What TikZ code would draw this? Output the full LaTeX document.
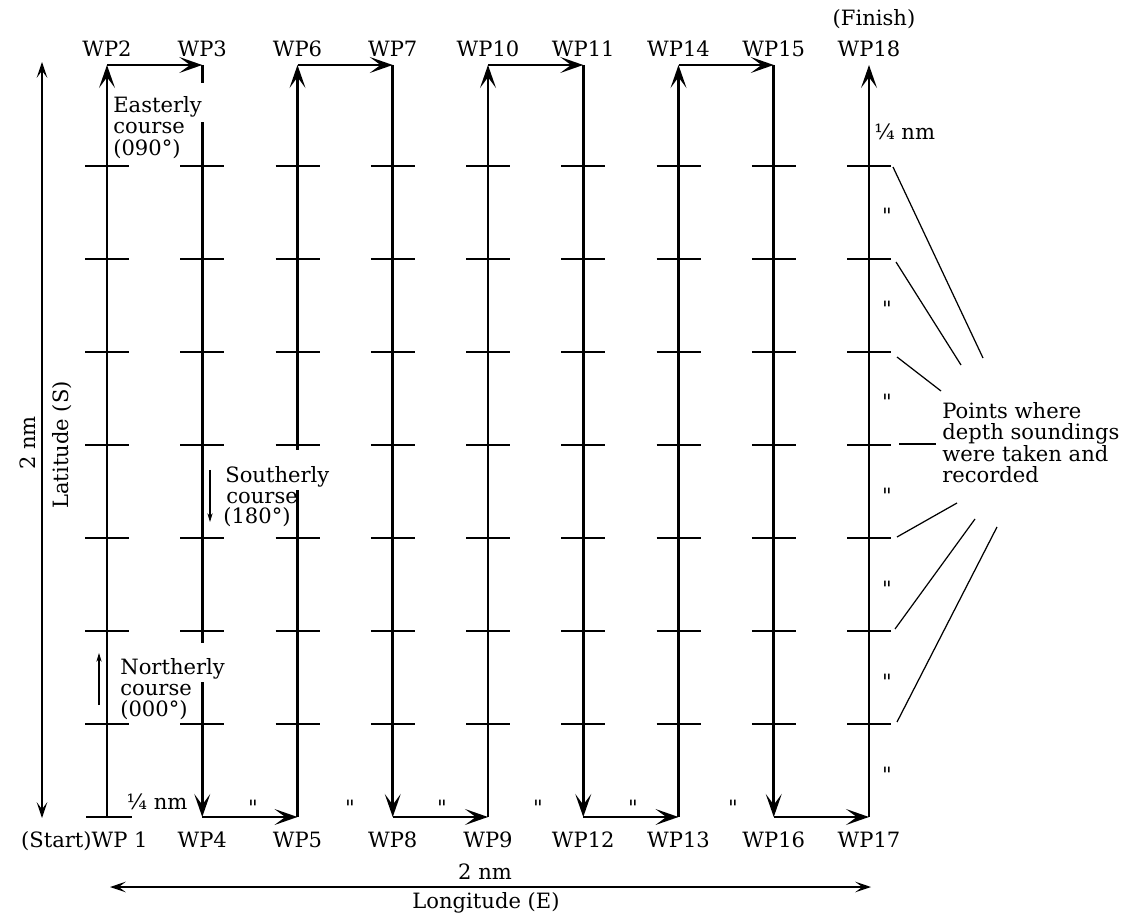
\documentclass[tikz,border=0pt]{standalone}
\usepackage{fontspec}
\setmainfont{DejaVu Serif}
\newfontfamily\dittofont[Ligatures=TeXOff]{DejaVu Serif}
\usetikzlibrary{arrows.meta}
\tikzset{SVrun/.style={line width=1.6pt,-{Stealth[length=13pt,width=9pt,inset=6pt]}},
         SVtick/.style={line width=1.5pt},
         SVlab/.style={font=\fontsize{12}{12}\selectfont,inner sep=0pt},
         SVditto/.style={font=\dittofont\fontsize{12}{12}\selectfont,inner sep=0pt},
         SVdim/.style={line width=0.8pt,{Stealth[length=9pt,width=6pt,inset=4pt]}-{Stealth[length=9pt,width=6pt,inset=4pt]}},
         SVsmall/.style={line width=0.6pt,-{Stealth[length=5pt,width=3pt]}},
         SVcall/.style={line width=0.7pt}}

\begin{document}
\begin{tikzpicture}[x=0.02cm,y=-0.02cm]
  \useasboundingbox (0,0) rectangle (1126,915);
  % waypoints: bottom row b0..b8, top row t0..t8
  \foreach \i in {0,...,8}
     {\coordinate (b\i) at (107+95.25*\i,817); \coordinate (t\i) at (107+95.25*\i,65);}
  % sounding points on every leg
  \foreach \i in {0,...,8} \foreach \k in {0,...,6}
     \draw[SVtick] (85+95.25*\i,166+93*\k) -- ++(44,0);
  \draw[SVtick] (86,817) -- (132,817);
  % survey track
  \foreach \a/\b in {b0/t0,t0/t1,t1/b1,b1/b2,b2/t2,t2/t3,t3/b3,b3/b4,b4/t4,t4/t5,t5/b5,
                     b5/b6,b6/t6,t6/t7,t7/b7,b7/b8,b8/t8}
     \draw[SVrun] (\a) -- (\b);
  % breaks in the legs behind the notes
  \fill[white] (196,83) rectangle (209,122);
  \fill[white] (291,450) rectangle (304,490);
  \fill[white] (196,643) rectangle (209,682);
  % waypoint labels
  \foreach \i/\l in {0/2,1/3,2/6,3/7,4/10,5/11,6/14,7/15,8/18}
     \node[SVlab,anchor=base] (wp\l) at (107+95.25*\i,57) {WP\l};
  \foreach \i/\l in {1/4,2/5,3/8,4/9,5/12,6/13,7/16,8/17}
     \node[SVlab,anchor=base] (wp\l) at (107+95.25*\i,847) {WP\l};
  \node[SVlab,anchor=base east] (wp1) at (148,847) {(Start)WP 1};
  \node[SVlab,anchor=base] (fin) at (874,26) {(Finish)};
  % course notes
  \node[SVlab,anchor=base west] (eas) at (113,113) {Easterly};
  \node[SVlab,anchor=base west] (eas2) at (113,134) {course};
  \node[SVlab,anchor=base west] (eas3) at (113,156) {(090°)};
  \node[SVlab,anchor=base west] (sou) at (225,482) {Southerly};
  \node[SVlab,anchor=base west] (sou2) at (226,503) {course};
  \node[SVlab,anchor=base west] (sou3) at (223,523) {(180°)};
  \coordinate (sa) at (210,470); \coordinate (sb) at (210,522);
  \draw[SVsmall] (sa) -- (sb);
  \node[SVlab,anchor=base west] (nor) at (120,674) {Northerly};
  \node[SVlab,anchor=base west] (nor2) at (120,695) {course};
  \node[SVlab,anchor=base west] (nor3) at (120,716) {(000°)};
  \coordinate (na) at (99,705); \coordinate (nb) at (99,653);
  \draw[SVsmall] (na) -- (nb);
  % spacing marks
  \node[SVlab] (qb) at (157,802) {¼ nm};
  \foreach \x in {253,350,442,538,633,733}
     \node[SVditto,anchor=base] (db\x) at (\x,815) {"};
  \node[SVlab,anchor=west] (qr) at (874,132) {¼ nm};
  \foreach \k in {0,...,6}
     \node[SVditto,anchor=base] (dr\k) at (887,224+93*\k) {"};
  % extent of the area
  \coordinate (la) at (42,62); \coordinate (lb) at (42,818);
  \draw[SVdim] (la) -- (lb);
  \node[SVlab,rotate=90] (lat2) at (28,443) {2 nm};
  \node[SVlab,rotate=90] (latS) at (62,445) {Latitude (S)};
  \coordinate (oa) at (110,887); \coordinate (ob) at (871,887);
  \draw[SVdim] (oa) -- (ob);
  \node[SVlab] (lon2) at (485,872) {2 nm};
  \node[SVlab] (lonE) at (486,903) {Longitude (E)};
  % callout
  \node[SVlab,font=\fontsize{12}{12.2}\selectfont,anchor=north west,align=left] (pts) at (942,402)
     {Points where\\depth soundings\\were taken and\\recorded};
  \foreach \k/\sx/\sy/\ex/\ey in {1/893/167/983/358,2/896/262/961/365,3/897/357/941/391,
                                  4/899/444/936/444,5/897/537/957/503,6/895/629/975/519,7/897/722/997/527}
     {\coordinate (cs\k) at (\sx,\sy); \coordinate (ce\k) at (\ex,\ey); \draw[SVcall] (cs\k) -- (ce\k);}
\end{tikzpicture}
\end{document}
